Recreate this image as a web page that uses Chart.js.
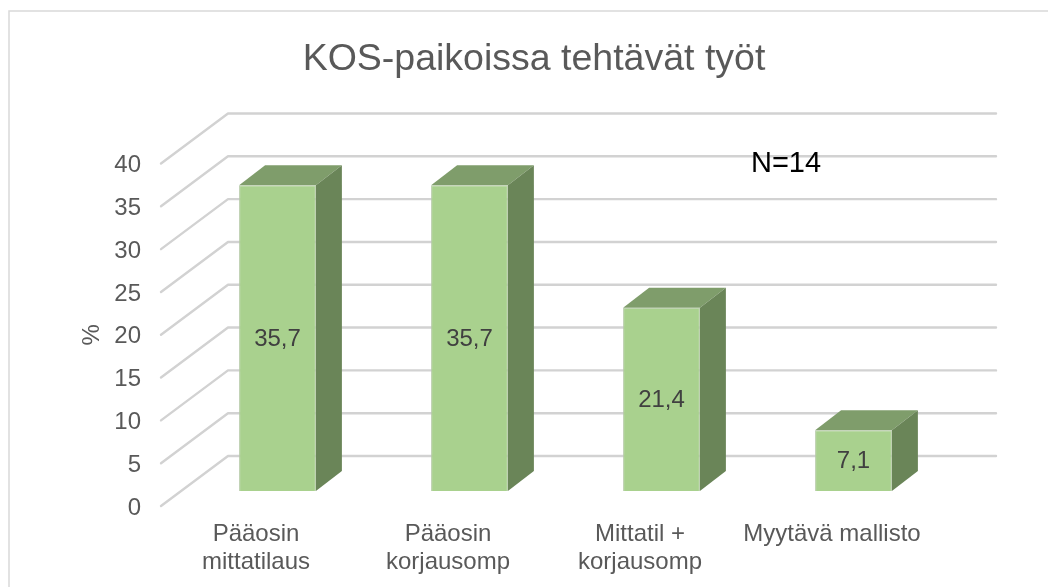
<!DOCTYPE html>
<html><head><meta charset="utf-8">
<style>html,body{margin:0;padding:0;background:#fff}canvas{display:block}</style>
<script src="https://cdn.jsdelivr.net/npm/chart.js@4"></script>
</head><body><canvas id="c" width="1048" height="587"></canvas>
<script>
const categories = [['Pääosin','mittatilaus'],['Pääosin','korjausomp'],['Mittatil +','korjausomp'],'Myytävä mallisto'];
const values = [35.7,35.7,21.4,7.1];
const titleText = 'KOS-paikoissa tehtävät työt';
const noteText = 'N=14';
const FONT = '"Liberation Sans", Arial, sans-serif';
const wall = {dx:68, dy:-50};
const barShift = {dx:21.5, dy:-15};
const depth = {dx:26, dy:-20};
const colors = {front:'#A9D18E', top:'#7F9D6B', side:'#6A8558', grid:'#D2D2D2', text:'#595959', label:'#404040'};

const frame3d = {
  id:'frame3d',
  beforeDraw(chart){
    const c=chart.ctx; c.save();
    c.strokeStyle='#D9D9D9'; c.lineWidth=1.5;
    c.beginPath(); c.moveTo(9,587); c.lineTo(9,11); c.lineTo(1048,11); c.stroke();
    c.restore();
  },
  beforeDatasetsDraw(chart){
    const c=chart.ctx, y=chart.scales.y, a=chart.chartArea;
    c.save(); c.strokeStyle=colors.grid; c.lineWidth=2.4; c.lineJoin='round'; c.lineCap='round';
    y.ticks.forEach(t=>{
      const py=y.getPixelForValue(t.value);
      c.beginPath(); c.moveTo(a.left+1,py); c.lineTo(a.left+wall.dx,py+wall.dy); c.lineTo(a.right+wall.dx,py+wall.dy); c.stroke();
    });
    c.restore();
    c.save(); c.translate(barShift.dx,barShift.dy);
    chart.getDatasetMeta(0).data.forEach(b=>{
      const l=b.x-b.width/2, r=b.x+b.width/2, tp=b.y, bt=b.base;
      c.fillStyle=colors.top; c.beginPath(); c.moveTo(l,tp); c.lineTo(l+depth.dx,tp+depth.dy); c.lineTo(r+depth.dx,tp+depth.dy); c.lineTo(r,tp); c.closePath(); c.fill();
      c.fillStyle=colors.side; c.beginPath(); c.moveTo(r,tp); c.lineTo(r+depth.dx,tp+depth.dy); c.lineTo(r+depth.dx,bt+depth.dy); c.lineTo(r,bt); c.closePath(); c.fill();
    });
  },
  afterDatasetsDraw(chart){
    const c=chart.ctx;
    c.restore();
    c.save();
    c.font='24px '+FONT; c.fillStyle=colors.label; c.textAlign='center'; c.textBaseline='middle';
    chart.getDatasetMeta(0).data.forEach((b,i)=>{
      c.fillText(String(values[i]).replace('.',','), b.x+barShift.dx, (b.y+b.base)/2+barShift.dy+1);
    });
    c.font='29px '+FONT; c.fillStyle='#000';
    c.fillText(noteText,786,164);
    c.restore();
  }
};

new Chart(document.getElementById('c'),{
  type:'bar',
  data:{labels:categories,datasets:[{data:values,backgroundColor:colors.front,borderColor:'#B4C9A5',borderWidth:1,categoryPercentage:1,barPercentage:0.4}]},
  plugins:[frame3d],
  options:{
    responsive:false,animation:false,
    layout:{padding:{left:20,right:0,top:0,bottom:0}},
    plugins:{
      legend:{display:false},tooltip:{enabled:false},
      title:{display:true,text:titleText,color:colors.text,font:{family:FONT,size:37.5,weight:'normal',lineHeight:1.2},padding:{top:37.5,bottom:81}}
    },
    scales:{
      x:{grid:{display:false},border:{display:false},
        ticks:{color:colors.text,font:{family:FONT,size:24,lineHeight:1.155},padding:6.5,maxRotation:0,autoSkip:false},
        afterFit(s){s.height=81;}},
      y:{min:0,max:40,position:'left',grid:{display:false,drawTicks:false},border:{display:false},
        ticks:{stepSize:5,color:colors.text,font:{family:FONT,size:24},padding:19,labelOffset:2},
        title:{display:true,text:'%',color:colors.text,font:{family:FONT,size:24},padding:{top:58,bottom:0}},
        afterFit(s){s.width=140;}},
      y2:{position:'right',display:true,grid:{display:false},border:{display:false},ticks:{display:false},
        afterFit(s){s.width=120;}}
    }
  }
});
</script></body></html>
